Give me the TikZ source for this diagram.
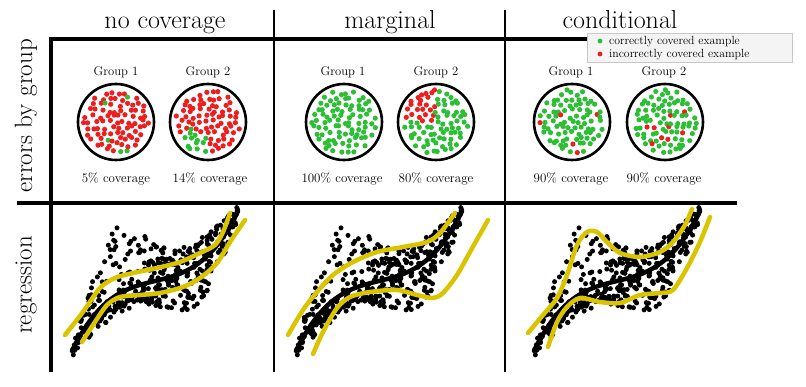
\documentclass[tikz,border=0pt]{standalone}
\usetikzlibrary{positioning}
\definecolor{dotgreen}{RGB}{44,190,52}
\definecolor{dotred}{RGB}{238,30,30}
\definecolor{bandyellow}{RGB}{218,196,0}
\definecolor{legendgray}{RGB}{244,244,244}
\definecolor{legendframe}{RGB}{200,200,200}

\tikzset{
  coltitle/.style={font=\fontsize{26}{30}\selectfont, anchor=base},
  rowtitle/.style={font=\fontsize{25}{30}\selectfont, rotate=90},
  grouplabel/.style={font=\fontsize{12.6}{15}\selectfont, anchor=base},
  covlabel/.style={font=\fontsize{13}{15}\selectfont, anchor=base},
  legendtext/.style={font=\fontsize{11.8}{13}\selectfont, anchor=base west, inner sep=0},
  groupdisk/.style={circle, draw=black, line width=2.6, minimum size=76, inner sep=0},
  fitline/.style={line width=4.5, line cap=round},
  bandline/.style={color=bandyellow, line width=4.5, line cap=round, line join=round},
}

\newcommand{\groupdots}[4]{%
  \pgfmathsetseed{#3}
  \foreach \i in {-6,...,6}{
    \foreach \j in {-7,...,7}{
      \pgfmathsetmacro{\dx}{6.6*\i+3.3*isodd(\j+10)+2.2*rand}
      \pgfmathsetmacro{\dy}{5.7*\j+2.2*rand}
      \pgfmathsetmacro{\rad}{sqrt(\dx*\dx+\dy*\dy)}
      \pgfmathsetmacro{\pick}{rnd}
      \pgfmathtruncatemacro{\inside}{\rad<32.5}
      \pgfmathtruncatemacro{\isred}{#4}
      \ifnum\inside=1
        \ifnum\isred=1 \def\dotcol{dotred}\else\def\dotcol{dotgreen}\fi
        \fill[\dotcol] ({#1+\dx},{#2+\dy}) circle (2.6);
      \fi
    }
  }
}

\newcommand{\scattercloud}[2]{%
  \pgfmathsetseed{#2}
  \foreach \k in {1,...,420}{
    \pgfmathsetmacro{\u}{2*rnd-1}
    \pgfmathsetmacro{\r}{rand}
    \pgfmathsetmacro{\w}{1-\u*\u*\u*\u}
    \pgfmathsetmacro{\up}{6+20*\w+45*exp(-((\u+0.4)/0.35)*((\u+0.4)/0.35))}
    \pgfmathsetmacro{\dn}{6+16*\w+20*exp(-((\u-0.45)/0.35)*((\u-0.45)/0.35))}
    \pgfmathsetmacro{\yy}{281-20*\u-50*\u*\u*\u+(\r<0 ? \r*\up : \r*\dn)}
    \fill ({#1+155+83*\u},\yy) circle (2.5);
  }
  \draw[fitline] plot[domain=-1:1, samples=60, smooth] ({#1+155+83*\x},{281-20*\x-50*\x*\x*\x});
}

\begin{document}
\begin{tikzpicture}[x=1pt,y=-1pt]
\useasboundingbox (0,0) rectangle (806,387);

\draw [line width=4.5] (49,39) -- (790,39);
\draw [line width=4.5] (51,37) -- (51,372);
\draw [line width=3.5] (17,203) -- (737,203);
\draw [line width=2.5] (274,10) -- (274,372);
\draw [line width=2.5] (505,10) -- (505,372);

\node[coltitle] (nocov) at (165,29) {no coverage};
\node[coltitle] (marg) at (390,29) {marginal};
\node[coltitle] (cond) at (620,29) {conditional};
\node[rowtitle] (errlab) at (26,116) {errors by group};
\node[rowtitle] (reglab) at (26,285) {regression};

\groupdots{116}{122}{11}{\pick<0.95}
\groupdots{208}{122}{12}{!(\dy>-0.36*\dx && \dx<0.09*\dy && \rad>15)}
\groupdots{344}{122}{13}{0}
\groupdots{436}{122}{14}{\dx<-1 && \dy<-1}
\groupdots{572}{122}{15}{\pick<0.1}
\groupdots{665}{122}{16}{\pick<0.1}

\node[groupdisk] (nc1) at (116,122) {};
\node[groupdisk] (nc2) at (208,122) {};
\node[groupdisk] (mg1) at (344,122) {};
\node[groupdisk] (mg2) at (436,122) {};
\node[groupdisk] (cd1) at (572,122) {};
\node[groupdisk] (cd2) at (665,122) {};

\node[grouplabel] (nc1top) at (116,76) {Group 1};
\node[grouplabel] (nc2top) at (208,76) {Group 2};
\node[grouplabel] (mg1top) at (343,76) {Group 1};
\node[grouplabel] (mg2top) at (436,76) {Group 2};
\node[grouplabel] (cd1top) at (571,76) {Group 1};
\node[grouplabel] (cd2top) at (664,76) {Group 2};

\node[covlabel] (nc1cov) at (116,183) {5\% coverage};
\node[covlabel] (nc2cov) at (210,183) {14\% coverage};
\node[covlabel] (mg1cov) at (342,183) {100\% coverage};
\node[covlabel] (mg2cov) at (436,183) {80\% coverage};
\node[covlabel] (cd1cov) at (571,183) {90\% coverage};
\node[covlabel] (cd2cov) at (664,183) {90\% coverage};

\node[draw=legendframe, fill=legendgray, line width=1.5, minimum width=205, minimum height=29, inner sep=0] (legend) at (690,48) {};
\fill[dotgreen] (600,41) circle (2.4);
\fill[dotred] (600,54) circle (2.4);
\node[legendtext] (corr) at (609,45) {correctly covered example};
\node[legendtext] (incorr) at (609,58) {incorrectly covered example};

\scattercloud{0}{21}
\scattercloud{224}{21}
\scattercloud{462}{21}

\draw [bandline] plot[smooth] coordinates {(65,335) (83,312) (100,288) (115,278) (133,273) (157,268) (180,262) (200,253) (215,245) (223,232) (230,213)};
\draw [bandline] plot[smooth] coordinates {(82,342) (95,322) (107,305) (120,297) (140,295) (160,293) (183,287) (200,278) (217,263) (230,242) (245,220)};
\draw [bandline] plot[smooth] coordinates {(288,335) (303,310) (317,292) (333,275) (353,262) (377,252) (403,247) (427,242) (440,233) (455,213)};
\draw [bandline] plot[smooth] coordinates {(313,354) (323,332) (337,308) (350,297) (370,292) (397,290) (417,295) (433,298) (443,293) (457,275) (470,252) (488,220)};
\draw [bandline] plot[smooth] coordinates {(528,333) (543,315) (557,298) (567,275) (577,245) (587,232) (597,232) (607,242) (620,253) (640,257) (660,252) (673,242) (685,225) (692,209)};
\draw [bandline] plot[smooth] coordinates {(548,347) (557,322) (567,307) (580,298) (600,302) (620,303) (640,295) (660,293) (673,290) (687,268) (700,242) (710,217)};
\end{tikzpicture}
\end{document}
